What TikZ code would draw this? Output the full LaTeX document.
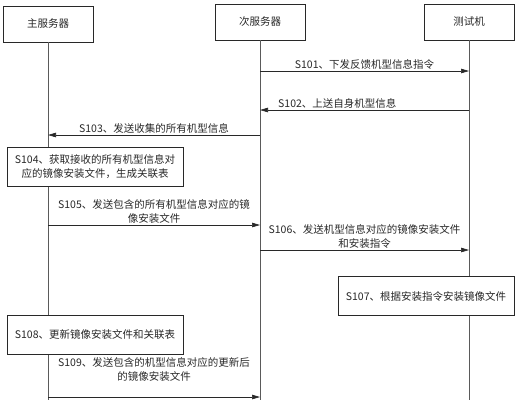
\documentclass[tikz,border=0pt]{standalone}
\usepackage{fontspec}
\setmainfont{Noto Sans CJK SC}
\usetikzlibrary{arrows.meta, positioning}
\definecolor{ink}{RGB}{40,40,40}
\definecolor{rule}{RGB}{90,90,90}

\begin{document}
\begin{tikzpicture}[x=1pt, y=-1pt,
      every node/.style={font=\fontsize{10.5}{14}\selectfont, text=ink},
      actor/.style={draw=ink, line width=0.7pt, minimum width=90pt, minimum height=36pt},
      stepbox/.style={draw=ink, fill=white, line width=0.7pt, align=center,
                      minimum width=176pt, minimum height=39pt},
      life/.style={draw=rule, line width=0.6pt},
      msg/.style={-{Triangle[length=8pt, width=4.5pt]}, draw=ink, line width=0.7pt},
      lbl/.style={align=center, inner sep=1.5pt}]
    \useasboundingbox (0,0) rectangle (518,400);
    % participants
    \node[actor] (mainsrv) at (48,24) {主服务器};
    \node[actor] (subsrv) at (260,22) {次服务器};
    \node[actor] (tester) at (469,22) {测试机};
    \coordinate (bottom) at (0,400);
    \draw[life] (mainsrv.south) -- (mainsrv.south |- bottom);
    \draw[life] (subsrv.south) -- (subsrv.south |- bottom);
    \draw[life] (tester.south) -- (tester.south |- bottom);
    % messages
    \coordinate (m1) at (0,71); \coordinate (m2) at (0,110); \coordinate (m3) at (0,135);
    \coordinate (m5) at (0,225); \coordinate (m6) at (0,250); \coordinate (m9) at (0,397);
    \draw[msg] (subsrv |- m1) -- node[lbl, above] {S101、下发反馈机型信息指令} (tester |- m1);
    \draw[msg] (tester |- m2) -- node[lbl, above, pos=0.63] {S102、上送自身机型信息} (subsrv |- m2);
    \draw[msg] (subsrv |- m3) -- node[lbl, above] {S103、发送收集的所有机型信息} (mainsrv |- m3);
    \node[stepbox] (s104) at (95,166.5) {S104、获取接收的所有机型信息对\\应的镜像安装文件，生成关联表};
    \draw[msg] (mainsrv |- m5) -- node[lbl, above] {S105、发送包含的所有机型信息对应的镜\\像安装文件} (subsrv |- m5);
    \draw[msg] (subsrv |- m6) -- node[lbl, above] {S106、发送机型信息对应的镜像安装文件\\和安装指令} (tester |- m6);
    \node[stepbox] (s107) at (426,296) {S107、根据安装指令安装镜像文件};
    \node[stepbox] (s108) at (95,334.5) {S108、更新镜像安装文件和关联表};
    \draw[msg] (mainsrv |- m9) -- node[lbl, above, yshift=14pt] {S109、发送包含的机型信息对应的更新后\\的镜像安装文件} (subsrv |- m9);
  \end{tikzpicture}
\end{document}
